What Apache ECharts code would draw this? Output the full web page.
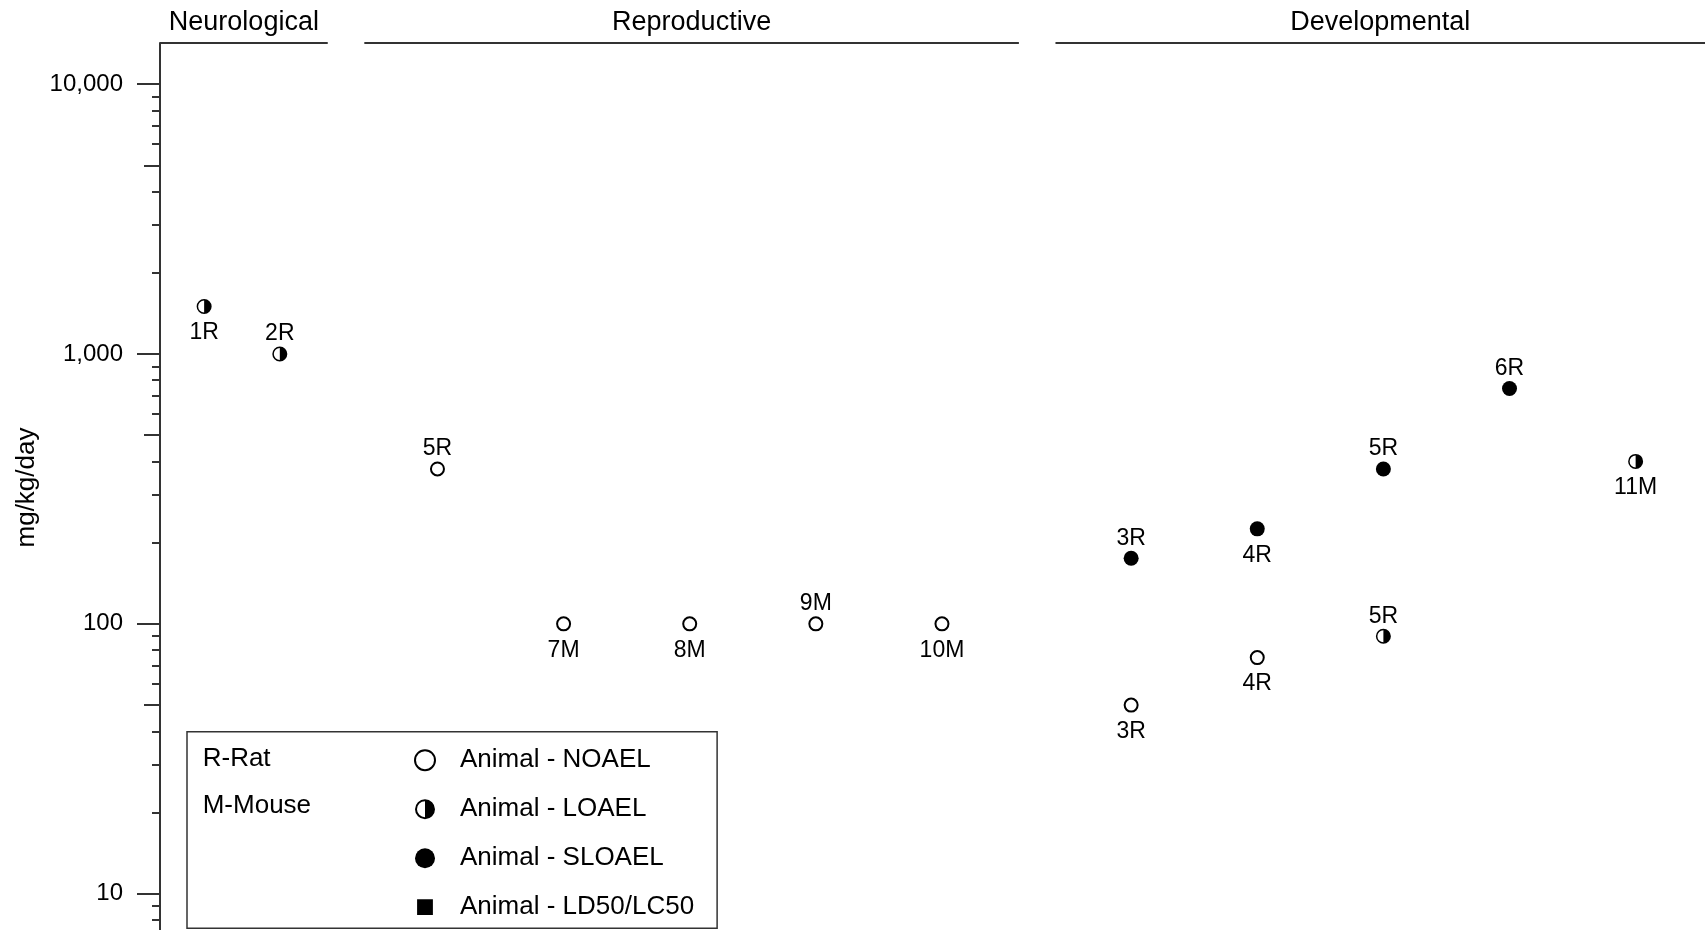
<!DOCTYPE html>
<html>
<head>
<meta charset="utf-8">
<title>mg/kg/day by endpoint</title>
<script src="https://cdn.jsdelivr.net/npm/echarts@6/dist/echarts.min.js"></script>
<style>
html, body { margin: 0; padding: 0; background: #fff; }
#chart { width: 1705px; height: 930px; }
</style>
</head>
<body>
<div id="chart"></div>
<script>
// one entry per plotted study: label, slot on the x scale, dose, effect level
var studies = ['1R', '2R', '5R', '7M', '8M', '9M', '10M', '3R', '3R', '4R', '4R', '5R', '5R', '6R', '11M'];
var slots = [0.15, 0.75, 2, 3, 4, 5, 6, 7.5, 7.5, 8.5, 8.5, 9.5, 9.5, 10.5, 11.5];
var doses = [1500, 1000, 375, 100, 100, 100, 100, 175, 50, 225, 75, 375, 90, 745, 400];
var levels = ['LOAEL', 'LOAEL', 'NOAEL', 'NOAEL', 'NOAEL', 'NOAEL', 'NOAEL',
    'SLOAEL', 'NOAEL', 'SLOAEL', 'NOAEL', 'SLOAEL', 'LOAEL', 'SLOAEL', 'LOAEL'];

// endpoint groups along the top
var groups = ['Neurological', 'Reproductive', 'Developmental'];
var groupFrom = [-0.2, 1.42, 6.9];
var groupTo = [1.13, 6.61, 12.05];

// y ticks (log scale)
var majorTicks = [10, 100, 1000, 10000];
var midTicks = [5, 50, 500, 5000];
var minorTicks = [6, 7, 8, 9, 20, 30, 40, 60, 70, 80, 90, 200, 300, 400, 600, 700, 800, 900,
    2000, 3000, 4000, 6000, 7000, 8000, 9000];

var speciesKey = ['R-Rat', 'M-Mouse'];
var levelKeys = ['NOAEL', 'LOAEL', 'SLOAEL', 'LD50/LC50'];

var yMin = 5, yMax = 14200;
var FONT = '"Liberation Sans", Arial, sans-serif';
var INK = '#000';

// label under the marker for these (others go above)
var labelBelow = [true, false, false, true, true, false, true, false, true, true, true, false, false, false, true];

// ring + right half disc -> half filled circle
var halfCircle = 'path://M0,-10A10,10,0,1,1,0,10A10,10,0,1,1,0,-10ZM0,-8A8,8,0,1,0,0,8A8,8,0,1,0,0,-8ZM0,-8A8,8,0,0,1,0,8Z';
// smaller square inside a 21x21 box (corner dots keep the box)
var smallSquare = 'path://M0,0L0.01,0M21,21L21.01,21M2.2,2.2H18.8V18.8H2.2Z';

var levelStyle = {
    'NOAEL': { symbol: 'circle', symbolSize: 13, itemStyle: { color: '#fff', borderColor: '#000', borderWidth: 2, opacity: 1 } },
    'LOAEL': { symbol: halfCircle, symbolSize: 15, itemStyle: { color: '#000', borderWidth: 0, opacity: 1 } },
    'SLOAEL': { symbol: 'circle', symbolSize: 15, itemStyle: { color: '#000', borderWidth: 0, opacity: 1 } },
    'LD50/LC50': { symbol: smallSquare, symbolSize: 15, itemStyle: { color: '#000', borderWidth: 0, opacity: 1 } }
};

function pointsFor(level) {
    var out = [];
    for (var i = 0; i < doses.length; i++) {
        if (levels[i] !== level) continue;
        out.push({
            name: studies[i],
            value: [slots[i], doses[i]],
            label: { position: labelBelow[i] ? 'bottom' : 'top', distance: labelBelow[i] ? 7.5 : 1 }
        });
    }
    return out;
}

var series = levelKeys.map(function (lv) {
    var st = levelStyle[lv];
    return {
        name: 'Animal - ' + lv,
        type: 'scatter',
        symbol: st.symbol,
        symbolSize: st.symbolSize,
        itemStyle: st.itemStyle,
        data: pointsFor(lv),
        label: {
            show: true,
            formatter: '{b}',
            fontSize: 23,
            fontFamily: FONT,
            color: INK
        },
        emphasis: { disabled: true },
        z: 3
    };
});

// group header lines
series.push({
    name: 'groups',
    type: 'scatter',
    data: [],
    silent: true,
    markLine: {
        silent: true,
        symbol: ['none', 'none'],
        lineStyle: { type: 'solid', color: '#333', width: 2, opacity: 1 },
        label: {
            show: true,
            position: 'insideMiddleTop',
            distance: 7,
            formatter: '{b}',
            fontSize: 27,
            fontFamily: FONT,
            color: INK
        },
        emphasis: { disabled: true },
        data: groups.map(function (g, i) {
            return [{ name: g, coord: [groupFrom[i], yMax] }, { coord: [groupTo[i], yMax] }];
        })
    }
});

function tickAxis(values, len) {
    return {
        type: 'log',
        logBase: 10,
        min: yMin,
        max: yMax,
        position: 'left',
        offset: 0,
        axisLine: { show: false, onZero: false },
        axisTick: { show: true, inside: false, length: len, customValues: values, lineStyle: { color: '#333', width: 2 } },
        axisLabel: { show: false },
        splitLine: { show: false },
        minorTick: { show: false }
    };
}

var mainAxis = tickAxis(majorTicks, 23);
mainAxis.axisLine = { show: true, onZero: false, lineStyle: { color: '#333', width: 2 } };
mainAxis.axisLabel = {
    show: true,
    customValues: majorTicks,
    margin: 37,
    fontSize: 24,
    fontFamily: FONT,
    color: INK,
    formatter: function (v) { return Number(v).toLocaleString('en-US'); }
};
mainAxis.name = 'mg/kg/day';
mainAxis.nameLocation = 'middle';
mainAxis.nameGap = 120;
mainAxis.nameRotate = 90;
mainAxis.nameMoveOverlap = false;
mainAxis.nameTextStyle = { fontSize: 26, fontFamily: FONT, color: INK, padding: [0, 0, 0, 43] };

var option = {
    backgroundColor: '#fff',
    animation: false,
    grid: {
        left: 160,
        right: 0,
        top: 43,
        bottom: -45,
        containLabel: false,
        outerBoundsMode: 'none'
    },
    xAxis: {
        type: 'value',
        min: -0.2,
        max: 12.05,
        show: false
    },
    yAxis: [mainAxis, tickAxis(midTicks, 16), tickAxis(minorTicks, 8)],
    legend: {
        data: levelKeys.map(function (lv) { return 'Animal - ' + lv; }),
        orient: 'vertical',
        left: 187,
        top: 731.7,
        padding: [15.5, 23, 8, 227],
        itemWidth: 20,
        itemHeight: 20,
        itemGap: 23,
        selectedMode: false,
        borderColor: '#333',
        borderWidth: 1.5,
        backgroundColor: 'transparent',
        itemStyle: { opacity: 1 },
        textStyle: { fontSize: 26, lineHeight: 26, fontFamily: FONT, color: INK, padding: [0, 0, 0, 20] }
    },
    graphic: speciesKey.map(function (t, i) {
        return {
            type: 'text',
            x: 202.7,
            y: 759 + i * 47,
            z: 10,
            style: { text: t, fontSize: 26, fontFamily: FONT, fill: INK, align: 'left', verticalAlign: 'middle' }
        };
    }),
    series: series
};

var chart = echarts.init(document.getElementById('chart'));
chart.setOption(option);
</script>
</body>
</html>
